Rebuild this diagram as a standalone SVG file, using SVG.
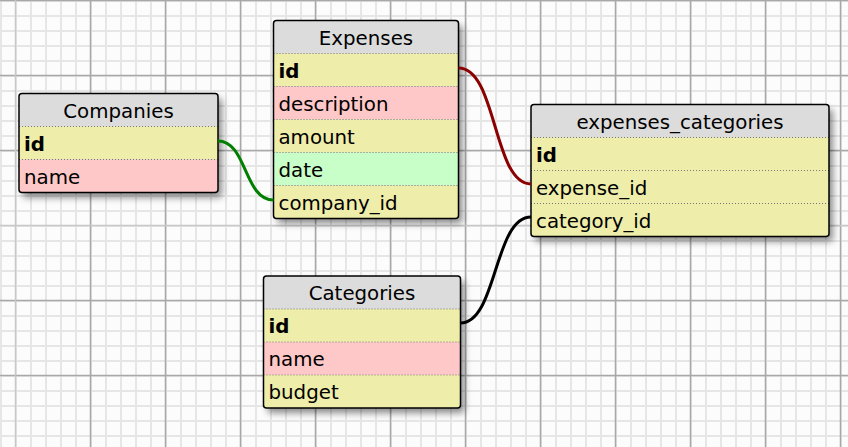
<svg xmlns="http://www.w3.org/2000/svg" width="848" height="447" viewBox="0 0 848 447">
<defs>
<pattern id="minor" x="0" y="0" width="15" height="15" patternUnits="userSpaceOnUse">
<path d="M0,1 H15 M1,0 V15" stroke="#e6e6e6" stroke-width="2" fill="none"/>
</pattern>
<filter id="sh" x="-10%" y="-10%" width="130%" height="140%">
<feDropShadow dx="4" dy="5" stdDeviation="3.5" flood-color="#000" flood-opacity="0.45"/>
</filter>
</defs>
<style>
.t{font-family:"DejaVu Sans","Verdana",sans-serif;font-size:19.8px;fill:#000}
.h{text-anchor:middle}
.b{font-weight:bold}
.n{fill:#eeeeaa}
.c{fill:#ffc8c8}
.d{fill:#c8ffc8}
.sep{stroke:#777;stroke-width:1;stroke-dasharray:1,2}
.box{fill:none;stroke:#000;stroke-width:1.5}
.major{stroke:#a8a8a8;stroke-width:1.5}
.mid{stroke:#c8c8c8;stroke-width:1.5}
.conn{fill:none;stroke-width:3}
</style>
<rect width="848" height="447" fill="#fcfcfc"/>
<rect width="848" height="447" fill="url(#minor)"/>
<g class="major">
<path d="M90.5,0V447M165.5,0V447M240.5,0V447M315.5,0V447M390.5,0V447M465.5,0V447M540.5,0V447M615.5,0V447M690.5,0V447M765.5,0V447M840.5,0V447"/>
<path d="M0,0.5H848M0,75.5H848M0,150.5H848M0,300.5H848M0,375.5H848"/>
</g>
<g class="mid">
<path d="M15.5,0V447M0,225.5H848"/>
</g>

<g id="companies">
<g filter="url(#sh)"><rect x="19" y="93.5" width="199" height="99" rx="3" fill="#dcdcdc"/></g>
<rect class="n" x="19" y="126.5" width="199" height="33"/>
<rect class="c" x="19" y="159.5" width="199" height="33" />
<path class="sep" d="M19,126.5H218M19,159.5H218"/>
<rect class="box" x="19" y="93.5" width="199" height="99" rx="3"/>
<text class="t h" x="118.5" y="117.5">Companies</text>
<text class="t b" x="24" y="150.5">id</text>
<text class="t" x="24" y="183.5">name</text>
</g>

<g id="expenses">
<g filter="url(#sh)"><rect x="273.5" y="20.5" width="185" height="198" rx="3" fill="#dcdcdc"/></g>
<rect class="n" x="273.5" y="53.5" width="185" height="33"/>
<rect class="c" x="273.5" y="86.5" width="185" height="33"/>
<rect class="n" x="273.5" y="119.5" width="185" height="33"/>
<rect class="d" x="273.5" y="152.5" width="185" height="33"/>
<rect class="n" x="273.5" y="185.5" width="185" height="33"/>
<path class="sep" d="M273.5,53.5H458.5M273.5,86.5H458.5M273.5,119.5H458.5M273.5,152.5H458.5M273.5,185.5H458.5"/>
<rect class="box" x="273.5" y="20.5" width="185" height="198" rx="3"/>
<text class="t h" x="366" y="44.5">Expenses</text>
<text class="t b" x="278.5" y="77.5">id</text>
<text class="t" x="278.5" y="110.5">description</text>
<text class="t" x="278.5" y="143.5">amount</text>
<text class="t" x="278.5" y="176.5">date</text>
<text class="t" x="278.5" y="209.5">company_id</text>
</g>

<g id="expenses_categories">
<g filter="url(#sh)"><rect x="531" y="104.5" width="298" height="132" rx="3" fill="#dcdcdc"/></g>
<rect class="n" x="531" y="137.5" width="298" height="99"/>
<path class="sep" d="M531,137.5H829M531,170.5H829M531,203.5H829"/>
<rect class="box" x="531" y="104.5" width="298" height="132" rx="3"/>
<text class="t h" x="680" y="128.5">expenses_categories</text>
<text class="t b" x="536" y="161.5">id</text>
<text class="t" x="536" y="194.5">expense_id</text>
<text class="t" x="536" y="227.5">category_id</text>
</g>

<g id="categories">
<g filter="url(#sh)"><rect x="263.5" y="276" width="197" height="132" rx="3" fill="#dcdcdc"/></g>
<rect class="n" x="263.5" y="309" width="197" height="33"/>
<rect class="c" x="263.5" y="342" width="197" height="33"/>
<rect class="n" x="263.5" y="375" width="197" height="33"/>
<path class="sep" d="M263.5,309H460.5M263.5,342H460.5M263.5,375H460.5"/>
<rect class="box" x="263.5" y="276" width="197" height="132" rx="3"/>
<text class="t h" x="362" y="300">Categories</text>
<text class="t b" x="268.5" y="333">id</text>
<text class="t" x="268.5" y="366">name</text>
<text class="t" x="268.5" y="399">budget</text>
</g>

<g id="connectors">
<path class="conn" stroke="#008000" d="M218,141 C247,141 244,200 273.5,200"/>
<path class="conn" stroke="#8b0000" d="M458.5,68 C497,68 493,184 531,184"/>
<path class="conn" stroke="#000" d="M460.5,323 C497,323 494,217 531,217"/>
</g>
</svg>
